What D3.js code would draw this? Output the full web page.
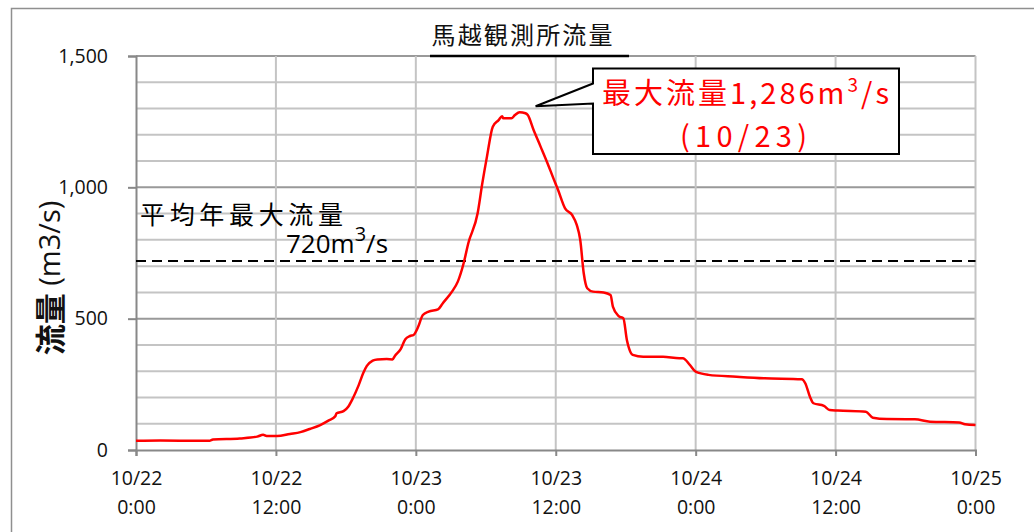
<!DOCTYPE html>
<html lang="ja">
<head>
<meta charset="utf-8">
<script src="https://cdn.jsdelivr.net/npm/d3@7"></script>
<style>
  html, body { margin: 0; padding: 0; background: #fff; }
  svg { display: block; }
  .lat { font-family: "Open Sans", "Noto Sans", sans-serif; }
  .cjk { font-family: "Noto Sans CJK JP", sans-serif; }
</style>
</head>
<body>
<svg id="chart" width="1034" height="532"></svg>
<script>
// 馬越観測所 hydrograph, 10/22 0:00 – 10/25 0:00
const title = "馬越観測所流量";
const yAxisTitle = ["流量", " (m3/s)"];
const yTicks = [0, 500, 1000, 1500];
const yMinorStep = 100;
const xTickHours = [0, 12, 24, 36, 48, 60, 72];

// hours elapsed since 10/22 0:00
const hours = [0, 2.1, 6.3, 6.6, 8.9, 10.4, 10.9, 11.2, 12.1, 13.2, 14.1, 14.9, 15.8, 16.5, 17.1, 17.2,
  17.8, 18.2, 18.6, 19.1, 19.5, 19.8, 20.3, 20.7, 21.5, 22.0, 22.2, 22.7, 23.1, 23.5, 23.8, 24.2,
  24.6, 25.1, 25.9, 26.3, 27.1, 27.6, 28.1, 28.5, 29.3, 29.7, 30.1, 30.6, 31.1, 31.4, 31.5, 32.2,
  32.5, 32.9, 33.4, 33.6, 34.1, 34.7, 35.3, 35.8, 36.2, 36.8, 37.4, 37.8, 38.1, 38.4, 38.7, 39.2,
  40.1, 40.7, 40.9, 41.4, 41.8, 42.1, 42.3, 42.6, 43.5, 45.2, 46.6, 46.9, 47.5, 48.0, 49.1, 51.5,
  53.9, 57.1, 57.4, 57.8, 58.1, 59.0, 59.5, 60.2, 62.6, 63.2, 64.4, 66.8, 68.1, 70.6, 71.1, 72.0];
// discharge (m3/s)
const flows = [35, 36, 35, 40, 44, 51, 58, 53, 53, 61, 68, 80, 95, 112, 129, 140,
  148, 165, 197, 247, 294, 320, 340, 345, 346, 345, 358, 384, 422, 434, 438, 469,
  514, 527, 535, 558, 603, 641, 711, 787, 901, 1015, 1117, 1231, 1256, 1271, 1263, 1263,
  1275, 1286, 1282, 1275, 1218, 1155, 1091, 1034, 990, 920, 895, 857, 800, 673, 616, 603,
  600, 590, 546, 510, 501, 419, 385, 362, 355, 355, 349, 349, 324, 298, 286, 279,
  273, 269, 254, 203, 178, 168, 152, 150, 146, 123, 118, 117, 108, 105, 98, 95];

const annualMaxLabel = "平均年最大流量";
const annualMax = 720;
const peakDate = "10/23";

const start = new Date(2017, 9, 22, 0, 0);
const toDate = h => new Date(start.getTime() + h * 3600e3);
const series = hours.map((h, i) => ({ t: toDate(h), v: flows[i] }));

const svg = d3.select("#chart");

const x = d3.scaleTime().domain([start, toDate(72)]).range([136, 975.5]);
const y = d3.scaleLinear().domain([0, 1500]).range([450, 56]);

// outer chart frame
svg.append("rect").attr("x", 11.5).attr("y", 8.5).attr("width", 1040).attr("height", 540)
  .attr("fill", "none").attr("stroke", "#8f8f8f").attr("stroke-width", 1.5);

// gridlines
const g = svg.append("g");
const minor = d3.range(yMinorStep, 1500 + 1, yMinorStep);
g.selectAll("line.hgrid").data(minor).join("line")
  .attr("x1", x.range()[0]).attr("x2", x.range()[1])
  .attr("y1", d => y(d)).attr("y2", d => y(d))
  .attr("stroke", d => d % 500 === 0 ? "#999" : "#c4c4c4")
  .attr("stroke-width", 2);
g.selectAll("line.vgrid").data(xTickHours.slice(1)).join("line")
  .attr("x1", d => x(toDate(d))).attr("x2", d => x(toDate(d)))
  .attr("y1", y(1500)).attr("y2", y(0))
  .attr("stroke", "#c4c4c4").attr("stroke-width", 2);

// axes
const yAxis = d3.axisLeft(y).tickValues(yTicks).tickFormat(d3.format(",")).tickSize(8).tickPadding(20);
const yG = svg.append("g").attr("transform", `translate(${x.range()[0]},0)`).call(yAxis);
yG.select(".domain").attr("stroke", "#888").attr("stroke-width", 2);
yG.selectAll(".tick line").attr("stroke", "#888").attr("stroke-width", 2);
yG.selectAll(".tick text").attr("class", "lat").attr("font-size", 19.5).attr("fill", "#111");

const xAxis = d3.axisBottom(x).tickValues(xTickHours.map(toDate)).tickSize(6).tickFormat("");
const xG = svg.append("g").attr("transform", `translate(0,${y(0)})`).call(xAxis);
xG.select(".domain").attr("stroke", "#888").attr("stroke-width", 2);
xG.selectAll(".tick line").attr("stroke", "#888").attr("stroke-width", 2);
const fmtDay = d3.timeFormat("%m/%d"), fmtTime = d3.timeFormat("%-H:%M");
xG.selectAll(".tick").each(function (d) {
  const t = d3.select(this).append("text").attr("class", "lat")
    .attr("font-size", 19.5).attr("fill", "#111").attr("text-anchor", "middle");
  t.append("tspan").attr("x", 0).attr("y", 35).text(fmtDay(d));
  t.append("tspan").attr("x", 0).attr("y", 64).text(fmtTime(d));
});

// y axis title
const yt = svg.append("text").attr("transform", "translate(48,278) rotate(-90)")
  .attr("text-anchor", "middle").attr("dominant-baseline", "central").attr("fill", "#111");
yt.append("tspan").attr("class", "cjk").attr("font-size", 31).attr("font-weight", 700).text(yAxisTitle[0]);
yt.append("tspan").attr("class", "lat").attr("font-size", 29).text(yAxisTitle[1]);

// average annual maximum reference line
svg.append("line").attr("x1", x.range()[0]).attr("x2", x.range()[1])
  .attr("y1", y(annualMax)).attr("y2", y(annualMax))
  .attr("stroke", "#000").attr("stroke-width", 2).attr("stroke-dasharray", "10,6");
svg.append("text").attr("class", "cjk").attr("x", 140).attr("y", 212.5)
  .attr("dominant-baseline", "central").attr("font-size", 25).attr("fill", "#000")
  .attr("textLength", 203).attr("lengthAdjust", "spacing").text(annualMaxLabel);
const am = svg.append("text").attr("class", "lat").attr("x", 286).attr("y", 253)
  .attr("font-size", 26).attr("fill", "#000");
am.append("tspan").text(`${annualMax}m`);
am.append("tspan").attr("dy", -12).attr("font-size", 20).text("3");
am.append("tspan").attr("dy", 12).text("/s");

// discharge line
const line = d3.line().x(d => x(d.t)).y(d => y(d.v)).curve(d3.curveMonotoneX);
svg.append("path").datum(series).attr("d", line)
  .attr("fill", "none").attr("stroke", "#ff0000").attr("stroke-width", 2.5)
  .attr("stroke-linejoin", "round");

// title
svg.append("text").attr("class", "cjk").attr("x", 522).attr("y", 33.5)
  .attr("text-anchor", "middle").attr("dominant-baseline", "central")
  .attr("font-size", 24).attr("fill", "#111")
  .attr("textLength", 181).attr("lengthAdjust", "spacing").text(title);
svg.append("line").attr("x1", 430).attr("x2", 629).attr("y1", 56).attr("y2", 56)
  .attr("stroke", "#000").attr("stroke-width", 2.5);

// peak callout
const peak = series.reduce((a, b) => (b.v > a.v ? b : a));
const tip = [x(peak.t) + 16, y(peak.v) - 6];
const bx0 = 593, bx1 = 899, by0 = 68.5, by1 = 154;
svg.append("path")
  .attr("d", `M${bx0},${by0}H${bx1}V${by1}H${bx0}V103.5L${tip[0]},${tip[1]}L${bx0},83.5Z`)
  .attr("fill", "#fff").attr("stroke", "#000").attr("stroke-width", 2).attr("stroke-linejoin", "miter");
const pk = svg.append("text").attr("class", "cjk").attr("x", 602).attr("y", 104)
  .attr("font-size", 29).attr("fill", "#ff0000")
  .attr("textLength", 287).attr("lengthAdjust", "spacing");
pk.append("tspan").text(`最大流量${d3.format(",")(peak.v)}m`);
pk.append("tspan").attr("dy", -12).attr("font-size", 19).text("3");
pk.append("tspan").attr("dy", 12).text("/s");
svg.append("text").attr("class", "cjk").attr("x", 680).attr("y", 147)
  .attr("font-size", 29).attr("fill", "#ff0000")
  .attr("textLength", 127).attr("lengthAdjust", "spacing").text(`(${peakDate})`);
</script>
</body>
</html>
